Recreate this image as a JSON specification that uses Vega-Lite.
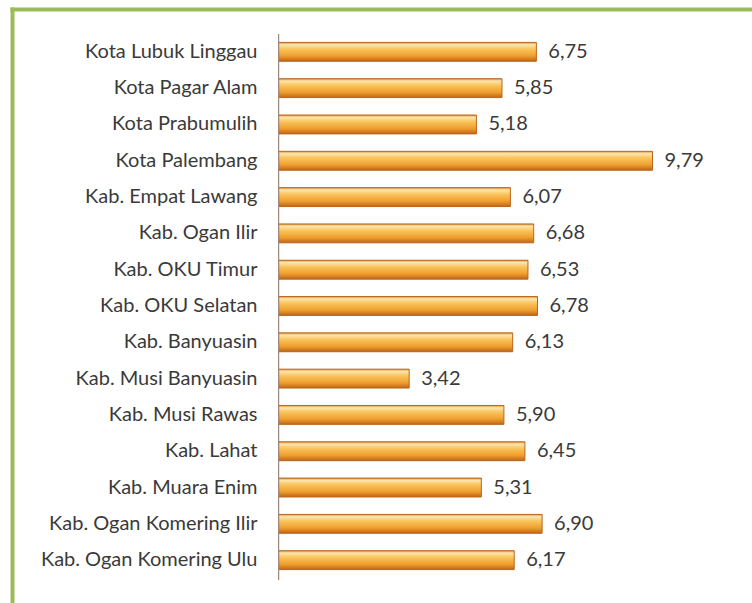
{
  "$schema": "https://vega.github.io/schema/vega-lite/v6.json",
  "width": 740,
  "height": 594,
  "autosize": {"type": "none"},
  "padding": {"left": 12, "top": 9, "right": 0, "bottom": 0},
  "background": "#ffffff",
  "data": {
    "values": [
      {"wilayah": "Kota Lubuk Linggau", "nilai": 6.75},
      {"wilayah": "Kota Pagar Alam", "nilai": 5.85},
      {"wilayah": "Kota Prabumulih", "nilai": 5.18},
      {"wilayah": "Kota Palembang", "nilai": 9.79},
      {"wilayah": "Kab. Empat Lawang", "nilai": 6.07},
      {"wilayah": "Kab. Ogan Ilir", "nilai": 6.68},
      {"wilayah": "Kab. OKU Timur", "nilai": 6.53},
      {"wilayah": "Kab. OKU Selatan", "nilai": 6.78},
      {"wilayah": "Kab. Banyuasin", "nilai": 6.13},
      {"wilayah": "Kab. Musi Banyuasin", "nilai": 3.42},
      {"wilayah": "Kab. Musi Rawas", "nilai": 5.90},
      {"wilayah": "Kab. Lahat", "nilai": 6.45},
      {"wilayah": "Kab. Muara Enim", "nilai": 5.31},
      {"wilayah": "Kab. Ogan Komering Ilir", "nilai": 6.90},
      {"wilayah": "Kab. Ogan Komering Ulu", "nilai": 6.17}
    ]
  },
  "encoding": {
    "y": {
      "field": "wilayah",
      "type": "nominal",
      "sort": null,
      "scale": {"paddingInner": 0.48, "paddingOuter": 0.92},
      "axis": {
        "orient": "left",
        "title": null,
        "ticks": false,
        "domain": true,
        "domainColor": "#9bbb59",
        "domainWidth": 4,
        "domainCap": "square",
        "labelPadding": -245,
        "labelFont": "Lato",
        "labelFontSize": 20,
        "labelColor": "#3a3a3a",
        "labelLimit": 0
      }
    }
  },
  "layer": [
    {
      "mark": {
        "type": "bar",
        "fill": {
          "gradient": "linear",
          "x1": 0, "y1": 0, "x2": 0, "y2": 1,
          "stops": [
            {"offset": 0, "color": "#e0913a"},
            {"offset": 0.12, "color": "#fde6ae"},
            {"offset": 0.35, "color": "#fac45c"},
            {"offset": 0.72, "color": "#ef9e2e"},
            {"offset": 1, "color": "#bf6518"}
          ]
        },
        "stroke": "#b8661e",
        "strokeWidth": 1
      },
      "encoding": {
        "x": {
          "field": "nilai",
          "type": "quantitative",
          "scale": {"domain": [-6.977, 12.395], "zero": false, "nice": false},
          "axis": {
            "orient": "top",
            "title": null,
            "labels": false,
            "ticks": false,
            "grid": false,
            "domain": true,
            "domainColor": "#9bbb59",
            "domainWidth": 4,
            "domainCap": "square"
          }
        },
        "x2": {"datum": 0}
      }
    },
    {
      "mark": {
        "type": "text",
        "align": "left",
        "baseline": "middle",
        "dx": 12,
        "font": "Lato",
        "fontSize": 20,
        "color": "#3a3a3a"
      },
      "encoding": {
        "x": {"field": "nilai", "type": "quantitative"},
        "text": {"field": "nilai", "type": "quantitative", "format": ".2f"}
      }
    },
    {
      "mark": {"type": "rule", "color": "#a08a78", "strokeWidth": 1},
      "encoding": {
        "x": {"datum": 0},
        "y": {"datum": "Kota Lubuk Linggau", "bandPosition": -0.44},
        "y2": {"datum": "Kab. Ogan Komering Ulu", "bandPosition": 1.55}
      }
    }
  ],
  "config": {
    "view": {"stroke": null},
    "locale": {
      "number": {"decimal": ",", "thousands": ".", "grouping": [3], "currency": ["Rp", ""]}
    }
  }
}
